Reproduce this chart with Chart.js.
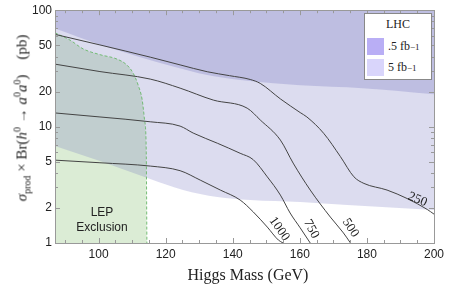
<!DOCTYPE html>
<html>
<head>
<meta charset="utf-8">
<script src="https://cdn.jsdelivr.net/npm/chart.js@4.4.0/dist/chart.umd.min.js"></script>
<style>
  html, body { margin: 0; padding: 0; background: #fff; }
  #wrap { position: relative; width: 450px; height: 290px; }
  #chart { position: absolute; left: 0; top: 0; }
  .serif { font-family: "Liberation Serif", "DejaVu Serif", serif; color: #222; }
  .sans { font-family: "Liberation Sans", Arial, sans-serif; color: #222; }
  #ytitle { position: absolute; left: 22px; top: 118px; transform: translate(-50%, -50%) rotate(-90deg);
            white-space: nowrap; font-size: 15px; }
  #ytitle sub, #ytitle sup { font-size: 10px; }
  #xtitle { position: absolute; left: 248px; top: 266px; transform: translateX(-50%); white-space: nowrap; font-size: 16px; }
  #lep { position: absolute; left: 102px; top: 205px; transform: translateX(-50%); text-align: center; font-size: 12px; line-height: 15px; }
  #legend { position: absolute; left: 364px; top: 13px; width: 68px; height: 67px; background: #fff;
            border: 1px solid #888; box-sizing: border-box; font-size: 12px; }
  #legend .title { text-align: center; margin-top: 3px; height: 19px; }
  #legend .row { display: flex; align-items: center; height: 21px; padding-left: 2px; }
  #legend .sw { width: 17px; height: 17px; margin-right: 4px; }
  #legend sup { font-size: 9px; }
</style>
</head>
<body>
<div id="wrap">
  <canvas id="chart" width="450" height="290"></canvas>
  <div id="ytitle" class="serif"><i>σ</i><sub>prod</sub> × Br(<i>h</i><sup>0</sup> → <i>a</i><sup>0</sup><i>a</i><sup>0</sup>)&nbsp;&nbsp;&nbsp;&nbsp;(pb)</div>
  <div id="xtitle" class="serif">Higgs Mass (GeV)</div>
  <div id="lep" class="sans">LEP<br>Exclusion</div>
  <div id="legend" class="serif">
    <div class="title">LHC</div>
    <div class="row"><div class="sw" style="background:#b9aef5"></div>.5 fb<sup>−1</sup></div>
    <div class="row"><div class="sw" style="background:#d9d5fb"></div>5 fb<sup>−1</sup></div>
  </div>
</div>
<script>
// tick labels
const xTickLabels = [100, 120, 140, 160, 180, 200];
const yTickLabels = [1, 2, 5, 10, 20, 50, 100];

// contour curves, labelled by a0 mass
const mass250 = [87, 100.4, 115.4, 124.3, 132.4, 139, 145.2, 148.2, 154.2, 160.1, 162.1, 167.1, 172.1, 176.1, 179.1, 186.0, 192.0, 198.0, 200];
const xsec250 = [62, 50.3, 39.5, 33.9, 29.6, 27.4, 25.4, 23.5, 17.3, 13.2, 12.1, 8.76, 5.52, 3.71, 3.25, 2.85, 2.41, 1.94, 1.77];
const mass500 = [87, 100.4, 115.4, 124.3, 134.2, 144.3, 148.2, 154.2, 158.0, 163.1, 169.1, 173.0, 175.1];
const xsec500 = [34.4, 29.7, 25.6, 21.4, 16.9, 14.4, 11.4, 7.66, 4.86, 2.85, 1.67, 1.22, 1.0];
const mass750 = [87, 100.4, 115.4, 124.3, 128.2, 135.4, 142.2, 146.1, 150.3, 154.2, 157.1, 160.1, 163.1];
const xsec750 = [13.1, 12.1, 11.0, 10.1, 8.8, 7.2, 5.9, 5.2, 3.7, 2.58, 1.81, 1.35, 1.0];
const mass1000 = [87, 100.4, 115.4, 124.3, 130.3, 136.3, 142.2, 146.1, 150.3, 153.6, 155];
const xsec1000 = [5.15, 4.89, 4.58, 4.18, 3.47, 2.85, 2.34, 1.85, 1.37, 1.06, 1.0];

// LHC reach (0.5 fb^-1 and 5 fb^-1)
const massLhcLow = [87, 100.4, 112.4, 122.2, 132.4, 142.2, 152.1, 160.1, 178.6, 200];
const xsecLhcLow = [69.5, 50.4, 39.5, 32.8, 27.7, 25.1, 23.6, 22.7, 21.4, 19.0];
const massLhcHigh = [87, 100.4, 115.4, 125.2, 135.4, 145.2, 160.1, 174.2, 200];
const xsecLhcHigh = [6.8, 5.06, 3.54, 2.85, 2.48, 2.34, 2.25, 2.12, 1.92];

// LEP exclusion edge
const massLep = [87, 91.5, 95.4, 100.4, 105.5, 108.5, 110.3, 111.8, 113.0, 113.7, 114.2, 114.4];
const xsecLep = [64, 55.3, 46.5, 41.5, 38.0, 33.7, 28.8, 22.7, 16.9, 11.4, 6.3, 1];

// where the contour labels sit
const curveLabels = ['1000', '750', '500', '250'];
const labelMass = [153.9, 163.4, 175.1, 195.1];
const labelXsec = [1.32, 1.32, 1.35, 2.36];
const labelAngle = [55, 62, 57, 22];

function pts(xs, ys) {
    return xs.map((x, i) => ({ x: x, y: ys[i] }));
}

function curve(xs, ys) {
    return {
        data: pts(xs, ys),
        borderColor: '#444',
        borderWidth: 1,
        pointRadius: 0,
        fill: false,
        cubicInterpolationMode: 'monotone',
        order: 0
    };
}

function shade(xs, ys, color, fill, order) {
    return {
        data: pts(xs, ys),
        borderWidth: 0,
        borderColor: 'rgba(0,0,0,0)',
        backgroundColor: color,
        pointRadius: 0,
        fill: fill,
        cubicInterpolationMode: 'monotone',
        order: order
    };
}

// frame, inward ticks and contour labels
const framePlugin = {
    id: 'frame',
    afterDatasetsDraw(chart) {
        const ctx = chart.ctx;
        const xs = chart.scales.x, ys = chart.scales.y;
        ctx.save();
        ctx.fillStyle = '#222';
        ctx.font = '13px "Liberation Serif", serif';
        ctx.textAlign = 'center';
        ctx.textBaseline = 'middle';
        curveLabels.forEach((t, i) => {
            ctx.save();
            ctx.translate(xs.getPixelForValue(labelMass[i]), ys.getPixelForValue(labelXsec[i]));
            ctx.rotate(labelAngle[i] * Math.PI / 180);
            ctx.fillText(t, 0, 0);
            ctx.restore();
        });
        ctx.restore();
    },
    afterDraw(chart) {
        const ctx = chart.ctx;
        const a = chart.chartArea;
        const xs = chart.scales.x, ys = chart.scales.y;
        ctx.save();
        ctx.strokeStyle = '#999';
        ctx.lineWidth = 1;
        ctx.strokeRect(Math.round(a.left) + 0.5, Math.round(a.top) + 0.5,
                       Math.round(a.right - a.left), Math.round(a.bottom - a.top));
        ctx.beginPath();
        for (let v = 90; v <= 200; v += 5) {
            const px = Math.round(xs.getPixelForValue(v)) + 0.5;
            const len = (v % 20 === 0) ? 5 : 3;
            ctx.moveTo(px, a.bottom); ctx.lineTo(px, a.bottom - len);
            ctx.moveTo(px, a.top); ctx.lineTo(px, a.top + len);
        }
        for (let d = 1; d < 100; d *= 10) {
            for (let k = 1; k <= 10; k++) {
                const v = d * k;
                const py = Math.round(ys.getPixelForValue(v)) + 0.5;
                const len = yTickLabels.includes(v) ? 5 : 3;
                ctx.moveTo(a.left, py); ctx.lineTo(a.left + len, py);
                ctx.moveTo(a.right, py); ctx.lineTo(a.right - len, py);
            }
        }
        ctx.stroke();
        ctx.restore();
    }
};

new Chart(document.getElementById('chart'), {
    type: 'line',
    data: {
        datasets: [
            curve(mass250, xsec250),
            curve(mass500, xsec500),
            curve(mass750, xsec750),
            curve(mass1000, xsec1000),
            {
                // dashed LEP edge on top of the shading
                data: pts(massLep, xsecLep),
                borderColor: 'rgba(110,185,110,0.95)',
                borderWidth: 1,
                borderDash: [3, 2],
                pointRadius: 0,
                fill: false,
                cubicInterpolationMode: 'monotone',
                order: 1
            },
            shade(massLhcLow, xsecLhcLow, 'rgba(115,115,191,0.28)', 'end', 2),
            shade(massLhcHigh, xsecLhcHigh, 'rgba(115,115,191,0.25)', 'end', 3),
            shade(massLep, xsecLep, 'rgb(219,236,213)', 'start', 4)
        ]
    },
    options: {
        responsive: false,
        animation: false,
        events: [],
        layout: { padding: { top: 10, right: 16, left: 0, bottom: 0 } },
        plugins: { legend: { display: false }, tooltip: { enabled: false } },
        scales: {
            x: {
                type: 'linear',
                min: 87,
                max: 200,
                grid: { display: false, drawTicks: false },
                border: { display: false },
                afterBuildTicks: s => { s.ticks = xTickLabels.map(v => ({ value: v })); },
                afterFit: s => { s.height = 47; },
                ticks: {
                    autoSkip: false,
                    maxRotation: 0,
                    padding: 4,
                    color: '#222',
                    font: { family: '"Liberation Sans", Arial, sans-serif', size: 12 }
                }
            },
            y: {
                type: 'logarithmic',
                min: 1,
                max: 100,
                grid: { display: false, drawTicks: false },
                border: { display: false },
                afterBuildTicks: s => { s.ticks = yTickLabels.map(v => ({ value: v })); },
                afterFit: s => { s.width = 55; },
                ticks: {
                    autoSkip: false,
                    padding: 3,
                    color: '#222',
                    callback: v => String(v),
                    font: { family: '"Liberation Sans", Arial, sans-serif', size: 12 }
                }
            }
        }
    },
    plugins: [framePlugin]
});
</script>
</body>
</html>
